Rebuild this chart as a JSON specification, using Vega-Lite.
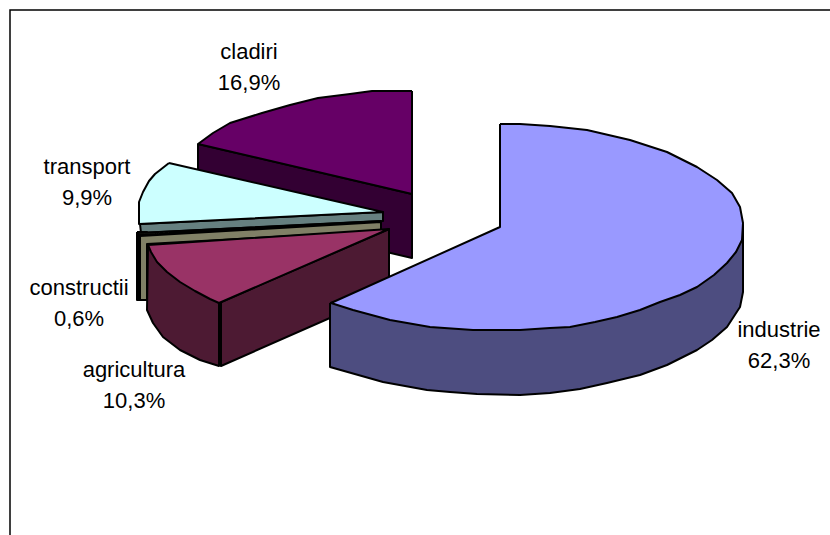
{
  "$schema": "https://vega.github.io/schema/vega-lite/v6.json",
  "width": 830,
  "height": 535,
  "padding": 0,
  "autosize": {"type": "none"},
  "background": "white",
  "view": {"stroke": null},
  "config": {"axis": {"disable": true}},
  "datasets": {
    "frame": [
      {"x": 10, "y": 536, "n": 1},
      {"x": 10, "y": 10, "n": 2},
      {"x": 831, "y": 10, "n": 3}
    ],
    "faces": [
      {"part": "cladiri side", "n": 1, "x": 198, "y": 144},
      {"part": "cladiri side", "n": 2, "x": 412, "y": 194},
      {"part": "cladiri side", "n": 3, "x": 412, "y": 258},
      {"part": "cladiri side", "n": 4, "x": 198, "y": 208},
      {"part": "cladiri side", "n": 5, "x": 198, "y": 144},

      {"part": "cladiri top", "n": 1, "x": 412, "y": 91},
      {"part": "cladiri top", "n": 2, "x": 372, "y": 91},
      {"part": "cladiri top", "n": 3, "x": 350, "y": 94},
      {"part": "cladiri top", "n": 4, "x": 318, "y": 98},
      {"part": "cladiri top", "n": 5, "x": 290, "y": 105},
      {"part": "cladiri top", "n": 6, "x": 262, "y": 113},
      {"part": "cladiri top", "n": 7, "x": 230, "y": 123},
      {"part": "cladiri top", "n": 8, "x": 213, "y": 133},
      {"part": "cladiri top", "n": 9, "x": 198, "y": 144},
      {"part": "cladiri top", "n": 10, "x": 412, "y": 194},
      {"part": "cladiri top", "n": 11, "x": 412, "y": 91},

      {"part": "transport side", "n": 1, "x": 140, "y": 224},
      {"part": "transport side", "n": 2, "x": 383, "y": 212},
      {"part": "transport side", "n": 3, "x": 383, "y": 221},
      {"part": "transport side", "n": 4, "x": 141, "y": 233},
      {"part": "transport side", "n": 5, "x": 140, "y": 224},

      {"part": "transport top", "n": 1, "x": 169, "y": 163},
      {"part": "transport top", "n": 2, "x": 155, "y": 174},
      {"part": "transport top", "n": 3, "x": 149, "y": 181},
      {"part": "transport top", "n": 4, "x": 143, "y": 192},
      {"part": "transport top", "n": 5, "x": 139, "y": 202},
      {"part": "transport top", "n": 6, "x": 139, "y": 224},
      {"part": "transport top", "n": 7, "x": 383, "y": 212},
      {"part": "transport top", "n": 8, "x": 169, "y": 163},

      {"part": "constructii rim", "n": 1, "x": 137, "y": 232},
      {"part": "constructii rim", "n": 2, "x": 147, "y": 232},
      {"part": "constructii rim", "n": 3, "x": 147, "y": 300},
      {"part": "constructii rim", "n": 4, "x": 137, "y": 300},
      {"part": "constructii rim", "n": 5, "x": 137, "y": 232},

      {"part": "constructii top", "n": 1, "x": 138, "y": 233},
      {"part": "constructii top", "n": 2, "x": 381, "y": 221},
      {"part": "constructii top", "n": 3, "x": 381, "y": 223},
      {"part": "constructii top", "n": 4, "x": 139, "y": 235},
      {"part": "constructii top", "n": 5, "x": 138, "y": 233},

      {"part": "constructii side", "n": 1, "x": 140, "y": 236},
      {"part": "constructii side", "n": 2, "x": 381, "y": 222},
      {"part": "constructii side", "n": 3, "x": 381, "y": 231},
      {"part": "constructii side", "n": 4, "x": 147, "y": 244},
      {"part": "constructii side", "n": 5, "x": 147, "y": 300},
      {"part": "constructii side", "n": 6, "x": 140, "y": 300},
      {"part": "constructii side", "n": 7, "x": 140, "y": 236},

      {"part": "agricultura rim", "n": 1, "x": 148, "y": 245},
      {"part": "agricultura rim", "n": 2, "x": 147, "y": 310},
      {"part": "agricultura rim", "n": 3, "x": 153, "y": 323},
      {"part": "agricultura rim", "n": 4, "x": 163, "y": 337},
      {"part": "agricultura rim", "n": 5, "x": 180, "y": 350},
      {"part": "agricultura rim", "n": 6, "x": 200, "y": 360},
      {"part": "agricultura rim", "n": 7, "x": 219, "y": 366},
      {"part": "agricultura rim", "n": 8, "x": 219, "y": 303},
      {"part": "agricultura rim", "n": 9, "x": 148, "y": 245},

      {"part": "agricultura side", "n": 1, "x": 219, "y": 303},
      {"part": "agricultura side", "n": 2, "x": 389, "y": 229},
      {"part": "agricultura side", "n": 3, "x": 389, "y": 292},
      {"part": "agricultura side", "n": 4, "x": 221, "y": 366},
      {"part": "agricultura side", "n": 5, "x": 221, "y": 303},

      {"part": "agricultura top", "n": 1, "x": 148, "y": 245},
      {"part": "agricultura top", "n": 2, "x": 151, "y": 252},
      {"part": "agricultura top", "n": 3, "x": 157, "y": 262},
      {"part": "agricultura top", "n": 4, "x": 167, "y": 272},
      {"part": "agricultura top", "n": 5, "x": 180, "y": 282},
      {"part": "agricultura top", "n": 6, "x": 195, "y": 291},
      {"part": "agricultura top", "n": 7, "x": 210, "y": 299},
      {"part": "agricultura top", "n": 8, "x": 219, "y": 303},
      {"part": "agricultura top", "n": 9, "x": 389, "y": 229},
      {"part": "agricultura top", "n": 10, "x": 148, "y": 245},

      {"part": "industrie side", "n": 1, "x": 330, "y": 303},
      {"part": "industrie side", "n": 2, "x": 743, "y": 225},
      {"part": "industrie side", "n": 3, "x": 743, "y": 292},
      {"part": "industrie side", "n": 4, "x": 740, "y": 307},
      {"part": "industrie side", "n": 5, "x": 727, "y": 327},
      {"part": "industrie side", "n": 6, "x": 712, "y": 340},
      {"part": "industrie side", "n": 7, "x": 697, "y": 350},
      {"part": "industrie side", "n": 8, "x": 667, "y": 365},
      {"part": "industrie side", "n": 9, "x": 640, "y": 375},
      {"part": "industrie side", "n": 10, "x": 607, "y": 383},
      {"part": "industrie side", "n": 11, "x": 580, "y": 389},
      {"part": "industrie side", "n": 12, "x": 550, "y": 393},
      {"part": "industrie side", "n": 13, "x": 520, "y": 395},
      {"part": "industrie side", "n": 14, "x": 477, "y": 394},
      {"part": "industrie side", "n": 15, "x": 450, "y": 392},
      {"part": "industrie side", "n": 16, "x": 427, "y": 390},
      {"part": "industrie side", "n": 17, "x": 405, "y": 386},
      {"part": "industrie side", "n": 18, "x": 383, "y": 382},
      {"part": "industrie side", "n": 19, "x": 330, "y": 367},
      {"part": "industrie side", "n": 20, "x": 330, "y": 303},

      {"part": "industrie top", "n": 1, "x": 500, "y": 124},
      {"part": "industrie top", "n": 2, "x": 500, "y": 227},
      {"part": "industrie top", "n": 3, "x": 331, "y": 303},
      {"part": "industrie top", "n": 4, "x": 353, "y": 310},
      {"part": "industrie top", "n": 5, "x": 390, "y": 320},
      {"part": "industrie top", "n": 6, "x": 430, "y": 327},
      {"part": "industrie top", "n": 7, "x": 473, "y": 330},
      {"part": "industrie top", "n": 8, "x": 520, "y": 330},
      {"part": "industrie top", "n": 9, "x": 550, "y": 328},
      {"part": "industrie top", "n": 10, "x": 570, "y": 327},
      {"part": "industrie top", "n": 11, "x": 595, "y": 322},
      {"part": "industrie top", "n": 12, "x": 617, "y": 317},
      {"part": "industrie top", "n": 13, "x": 640, "y": 310},
      {"part": "industrie top", "n": 14, "x": 660, "y": 302},
      {"part": "industrie top", "n": 15, "x": 680, "y": 295},
      {"part": "industrie top", "n": 16, "x": 697, "y": 287},
      {"part": "industrie top", "n": 17, "x": 714, "y": 275},
      {"part": "industrie top", "n": 18, "x": 727, "y": 263},
      {"part": "industrie top", "n": 19, "x": 736, "y": 252},
      {"part": "industrie top", "n": 20, "x": 742, "y": 240},
      {"part": "industrie top", "n": 21, "x": 743, "y": 223},
      {"part": "industrie top", "n": 22, "x": 740, "y": 207},
      {"part": "industrie top", "n": 23, "x": 732, "y": 193},
      {"part": "industrie top", "n": 24, "x": 717, "y": 180},
      {"part": "industrie top", "n": 25, "x": 697, "y": 167},
      {"part": "industrie top", "n": 26, "x": 667, "y": 152},
      {"part": "industrie top", "n": 27, "x": 630, "y": 140},
      {"part": "industrie top", "n": 28, "x": 587, "y": 130},
      {"part": "industrie top", "n": 29, "x": 550, "y": 126},
      {"part": "industrie top", "n": 30, "x": 520, "y": 124},
      {"part": "industrie top", "n": 31, "x": 500, "y": 124}
    ],
    "labels": [
      {"sector": "cladiri", "share": 16.9, "label": "cladiri\n16,9%", "x": 249, "y": 52},
      {"sector": "transport", "share": 9.9, "label": "transport\n9,9%", "x": 87, "y": 167},
      {"sector": "constructii", "share": 0.6, "label": "constructii\n0,6%", "x": 79, "y": 288},
      {"sector": "agricultura", "share": 10.3, "label": "agricultura\n10,3%", "x": 134, "y": 370},
      {"sector": "industrie", "share": 62.3, "label": "industrie\n62,3%", "x": 779, "y": 330}
    ]
  },
  "layer": [
    {
      "data": {"name": "frame"},
      "mark": {"type": "line", "stroke": "black", "strokeWidth": 1.5, "strokeJoin": "miter"},
      "encoding": {
        "x": {"field": "x", "type": "quantitative", "scale": {"domain": [0, 830], "nice": false, "zero": false}},
        "y": {"field": "y", "type": "quantitative", "scale": {"domain": [535, 0], "nice": false, "zero": false}},
        "order": {"field": "n", "type": "ordinal"}
      }
    },
    {
      "data": {"name": "faces"},
      "mark": {"type": "line", "filled": true, "stroke": "black", "strokeWidth": 2, "strokeJoin": "round", "clip": false},
      "encoding": {
        "x": {"field": "x", "type": "quantitative", "scale": {"domain": [0, 830], "nice": false, "zero": false}},
        "y": {"field": "y", "type": "quantitative", "scale": {"domain": [535, 0], "nice": false, "zero": false}},
        "order": {"field": "n", "type": "quantitative"},
        "fill": {
          "field": "part",
          "type": "nominal",
          "legend": null,
          "scale": {
            "domain": [
              "cladiri side", "cladiri top", "transport side", "transport top",
              "constructii rim", "constructii top", "constructii side",
              "agricultura rim", "agricultura side", "agricultura top",
              "industrie side", "industrie top"
            ],
            "range": [
              "#330033", "#660066", "#668080", "#CCFFFF",
              "#000000", "#FFFFCC", "#808066",
              "#4D1A33", "#4D1A33", "#993366",
              "#4D4D80", "#9999FF"
            ]
          }
        }
      }
    },
    {
      "data": {"name": "labels"},
      "mark": {"type": "text", "font": "Liberation Sans", "fontSize": 22, "lineBreak": "\n", "lineHeight": 31, "align": "center", "baseline": "middle", "color": "black"},
      "encoding": {
        "x": {"field": "x", "type": "quantitative", "scale": {"domain": [0, 830], "nice": false, "zero": false}},
        "y": {"field": "y", "type": "quantitative", "scale": {"domain": [535, 0], "nice": false, "zero": false}},
        "text": {"field": "label", "type": "nominal"}
      }
    }
  ]
}
